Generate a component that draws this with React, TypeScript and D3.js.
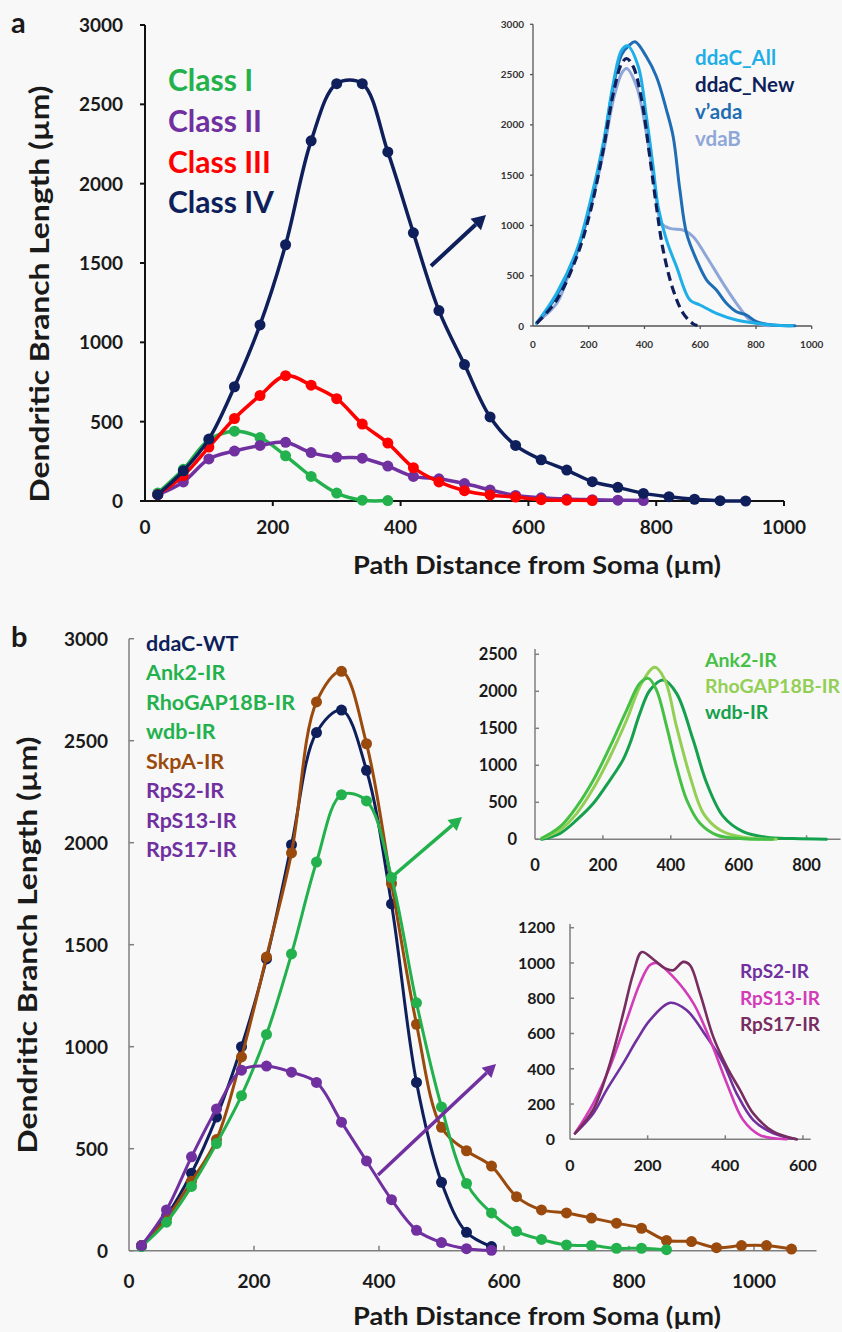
import React from 'react';
import * as d3 from 'd3';

const FONT = 'Lato, "Open Sans", sans-serif';
const NAVY = '#0e1f5b';
const GREEN = '#22b14c';
const PURPLE = '#7030a0';
const RED = '#ff0000';
const BROWN = '#9a4a0d';
const BG = '#f8f8f8';
const TXT = '#1a1a1a';

// ---------------- Panel a (main) ----------------
const aClassIX = [20, 60, 100, 140, 180, 220, 260, 300, 340, 380];
const aClassIY = [50, 200, 385, 440, 400, 285, 155, 50, 5, 3];
const aClassIIX = [20, 60, 100, 140, 180, 220, 260, 300, 340, 380, 420, 460, 500, 540, 580, 620, 660, 700, 740, 780];
const aClassIIY = [40, 120, 265, 315, 350, 370, 305, 275, 270, 220, 155, 140, 110, 70, 35, 20, 12, 8, 5, 3];
const aClassIIIX = [20, 60, 100, 140, 180, 220, 260, 300, 340, 380, 420, 460, 500, 540, 580, 620, 660, 700];
const aClassIIIY = [40, 160, 340, 520, 665, 790, 730, 645, 485, 365, 210, 120, 65, 38, 25, 8, 5, 3];
const aClassIVX = [20, 60, 100, 140, 180, 220, 260, 300, 340, 380, 420, 460, 500, 540, 580, 620, 660, 700, 740, 780, 820, 860, 900, 940];
const aClassIVY = [40, 190, 390, 720, 1110, 1615, 2270, 2630, 2630, 2200, 1690, 1200, 860, 530, 350, 260, 195, 122, 86, 48, 27, 11, 2, 0];
const aLegend = ['Class I', 'Class II', 'Class III', 'Class IV'];
const aYTicks = [0, 500, 1000, 1500, 2000, 2500, 3000];
const aXTicks = [0, 200, 400, 600, 800, 1000];

// ---------------- Panel a inset ----------------
const iaAllX = [13, 85, 157, 204, 252, 288, 318, 340, 378, 407, 431, 449, 479, 515, 563, 599, 658, 730, 802, 870, 930];
const iaAllY = [27, 325, 755, 1220, 1816, 2412, 2744, 2785, 2578, 2080, 1584, 1186, 855, 590, 258, 209, 126, 60, 27, 8, 2];
const iaNewX = [13, 85, 157, 204, 252, 288, 318, 336, 360, 390, 419, 443, 467, 503, 539, 575, 590];
const iaNewY = [27, 258, 689, 1120, 1750, 2312, 2610, 2660, 2578, 2247, 1683, 1186, 755, 358, 126, 20, 5];
const iaVadaX = [13, 85, 157, 204, 252, 288, 318, 345, 366, 407, 443, 479, 503, 527, 551, 587, 623, 658, 694, 730, 766, 802, 861, 940];
const iaVadaY = [27, 300, 730, 1190, 1790, 2380, 2700, 2790, 2826, 2677, 2478, 2147, 1882, 1352, 921, 656, 457, 358, 226, 142, 109, 43, 10, 2];
const iaVdabX = [13, 85, 121, 157, 204, 252, 288, 318, 336, 372, 407, 437, 461, 491, 539, 575, 623, 682, 730, 778, 826, 850];
const iaVdabY = [33, 225, 457, 722, 1153, 1716, 2247, 2512, 2560, 2379, 1915, 1385, 1021, 971, 954, 888, 689, 424, 226, 60, 10, 3];
const iaLegend = ['ddaC_All', 'ddaC_New', 'v\u2019ada', 'vdaB'];
const iaYTicks = [0, 500, 1000, 1500, 2000, 2500, 3000];
const iaXTicks = [0, 200, 400, 600, 800, 1000];

// ---------------- Panel b (main) ----------------
const bWtX = [20, 60, 100, 140, 180, 220, 260, 300, 340, 380, 420, 460, 500, 540, 580];
const bWtY = [25, 170, 380, 655, 1000, 1430, 1990, 2540, 2650, 2355, 1700, 825, 335, 90, 20];
const bGreenX = [20, 60, 100, 140, 180, 220, 260, 300, 340, 380, 420, 460, 500, 540, 580, 620, 660, 700, 740, 780, 820, 860];
const bGreenY = [20, 140, 315, 525, 760, 1060, 1455, 1905, 2235, 2205, 1830, 1215, 705, 330, 185, 95, 55, 28, 25, 12, 12, 5];
const bSkpX = [20, 60, 100, 140, 180, 220, 260, 300, 340, 380, 420, 460, 500, 540, 580, 620, 660, 700, 740, 780, 820, 860, 900, 940, 980, 1020, 1060];
const bSkpY = [25, 160, 340, 545, 950, 1440, 1950, 2690, 2840, 2485, 1800, 1110, 605, 490, 415, 265, 200, 185, 160, 135, 110, 50, 45, 15, 25, 25, 8];
const bRpsX = [20, 60, 100, 140, 180, 220, 260, 300, 340, 380, 420, 460, 500, 540, 580];
const bRpsY = [25, 200, 460, 695, 885, 905, 875, 825, 630, 440, 250, 100, 40, 10, 2];
const bLegend = ['ddaC-WT', 'Ank2-IR', 'RhoGAP18B-IR', 'wdb-IR', 'SkpA-IR', 'RpS2-IR', 'RpS13-IR', 'RpS17-IR'];
const bLegendColors = [NAVY, GREEN, GREEN, GREEN, BROWN, PURPLE, PURPLE, PURPLE];
const bYTicks = [0, 500, 1000, 1500, 2000, 2500, 3000];
const bXTicks = [0, 200, 400, 600, 800, 1000];

// ---------------- Panel b inset 1 ----------------
const ib1AnkX = [20, 74, 123, 172, 221, 270, 309, 334, 358, 388, 417, 447, 486, 535, 613, 700];
const ib1AnkY = [14, 170, 441, 801, 1251, 1747, 2108, 2175, 2017, 1521, 981, 531, 216, 58, 8, 0];
const ib1RhoX = [20, 74, 123, 172, 221, 270, 314, 353, 383, 417, 457, 496, 545, 613, 711];
const ib1RhoY = [14, 126, 351, 689, 1116, 1612, 2108, 2324, 2152, 1521, 846, 351, 126, 27, 0];
const ib1WdbX = [20, 74, 123, 172, 221, 241, 260, 280, 309, 339, 378, 417, 466, 506, 555, 613, 682, 761, 859];
const ib1WdbY = [0, 81, 261, 486, 801, 936, 1080, 1297, 1702, 2017, 2152, 1972, 1341, 757, 306, 103, 27, 10, 0];
const ib1Legend = ['Ank2-IR', 'RhoGAP18B-IR', 'wdb-IR'];
const ib1YTicks = [0, 500, 1000, 1500, 2000, 2500];
const ib1XTicks = [0, 200, 400, 600, 800];

// ---------------- Panel b inset 2 ----------------
const ib2Rps2X = [13, 60, 94, 137, 172, 206, 258, 300, 352, 395, 429, 472, 524, 584];
const ib2Rps2Y = [34, 147, 279, 431, 563, 676, 774, 733, 581, 431, 261, 109, 34, 0];
const ib2Rps13X = [13, 60, 103, 146, 180, 206, 223, 266, 318, 361, 404, 446, 489, 558];
const ib2Rps13Y = [34, 204, 411, 676, 884, 988, 1000, 921, 771, 563, 317, 109, 24, 0];
const ib2Rps17X = [13, 60, 103, 137, 163, 185, 215, 245, 266, 292, 309, 335, 369, 404, 438, 472, 524, 584];
const ib2Rps17Y = [34, 170, 431, 714, 941, 1062, 1020, 969, 959, 1006, 988, 827, 581, 411, 279, 147, 43, 0];
const ib2Legend = ['RpS2-IR', 'RpS13-IR', 'RpS17-IR'];
const ib2YTicks = [0, 200, 400, 600, 800, 1000, 1200];
const ib2XTicks = [0, 200, 400, 600];

const zip = (xs: number[], ys: number[]): [number, number][] => xs.map((x, i) => [x, ys[i]]);

type Scale = d3.ScaleLinear<number, number>;

function Series({ xs, ys, x, y, color, width, r, dash }: { xs: number[]; ys: number[]; x: Scale; y: Scale; color: string; width: number; r?: number; dash?: string }) {
  const pts = zip(xs, ys);
  const gen = d3.line<[number, number]>().x(d => x(d[0])).y(d => y(d[1])).curve(d3.curveCatmullRom.alpha(0.5));
  return (
    <g>
      <path d={gen(pts) || ''} fill="none" stroke={color} strokeWidth={width} strokeDasharray={dash} strokeLinejoin="round" strokeLinecap={dash ? 'butt' : 'round'} />
      {r ? pts.map((p, i) => <circle key={i} cx={x(p[0])} cy={y(p[1])} r={r} fill={color} />) : null}
    </g>
  );
}

function Axes({ x, y, xTicks, yTicks, color, width, tickLen, inside, fs, yLabelX, xLabelY, xEnd, yTop, labelColor, fw }: {
  x: Scale; y: Scale; xTicks: number[]; yTicks: number[]; color: string; width: number; tickLen: number; inside: boolean; fs: number; yLabelX: number; xLabelY: number; xEnd: number; yTop: number; labelColor?: string; fw?: number;
}) {
  const x0 = x(0);
  const y0 = y(0);
  const dir = inside ? 1 : -1;
  return (
    <g fontFamily={FONT} fontWeight={fw ?? 700} fontSize={fs} fill={labelColor ?? TXT}>
      <line x1={x0} x2={x0} y1={y0} y2={yTop} stroke={color} strokeWidth={width} />
      <line x1={x0} x2={xEnd} y1={y0} y2={y0} stroke={color} strokeWidth={width} />
      {yTicks.map(t => (
        <g key={'y' + t}>
          <line x1={x0} x2={x0 + dir * tickLen} y1={y(t)} y2={y(t)} stroke={color} strokeWidth={width} />
          <text x={yLabelX} y={y(t)} dy="0.36em" textAnchor="end">{t}</text>
        </g>
      ))}
      {xTicks.map(t => (
        <g key={'x' + t}>
          {t !== 0 && <line x1={x(t)} x2={x(t)} y1={y0} y2={y0 - dir * tickLen} stroke={color} strokeWidth={width} />}
          <text x={x(t)} y={xLabelY} dy="0.36em" textAnchor="middle">{t}</text>
        </g>
      ))}
    </g>
  );
}

function Arrow({ x1, y1, x2, y2, color, width, head }: { x1: number; y1: number; x2: number; y2: number; color: string; width: number; head: number }) {
  const ang = Math.atan2(y2 - y1, x2 - x1);
  const bx = x2 - head * Math.cos(ang);
  const by = y2 - head * Math.sin(ang);
  const hw = head * 0.55;
  const p1 = [bx + hw * Math.sin(ang), by - hw * Math.cos(ang)];
  const p2 = [bx - hw * Math.sin(ang), by + hw * Math.cos(ang)];
  return (
    <g>
      <line x1={x1} y1={y1} x2={bx} y2={by} stroke={color} strokeWidth={width} />
      <polygon points={`${x2},${y2} ${p1[0]},${p1[1]} ${p2[0]},${p2[1]}`} fill={color} />
    </g>
  );
}

export default function App() {
  // Panel a scales
  const ax = d3.scaleLinear().domain([0, 1000]).range([145, 784]);
  const ay = d3.scaleLinear().domain([0, 3000]).range([501, 25]);
  // inset a
  const iax = d3.scaleLinear().domain([0, 1000]).range([533, 811.7]);
  const iay = d3.scaleLinear().domain([0, 3000]).range([326, 24.3]);
  // Panel b
  const bx = d3.scaleLinear().domain([0, 1100]).range([129, 816.5]);
  const by = d3.scaleLinear().domain([0, 3000]).range([1250.7, 638.7]);
  // inset b1
  const b1x = d3.scaleLinear().domain([0, 900]).range([535, 840.5]);
  const b1y = d3.scaleLinear().domain([0, 2500]).range([839.3, 654.3]);
  // inset b2
  const b2x = d3.scaleLinear().domain([0, 620]).range([570, 810.7]);
  const b2y = d3.scaleLinear().domain([0, 1200]).range([1139.3, 927.7]);

  const aColors = [GREEN, PURPLE, RED, NAVY];
  const iaColors = ['#1eaee8', NAVY, '#1f6db4', '#8fa7d8'];
  const ib1Colors = ['#45c045', '#93cf55', '#14a04c'];
  const ib2Colors = [PURPLE, '#d23cb8', '#772d60'];

  return (
    <svg width={842} height={1332} style={{ position: 'absolute', left: 0, top: 0, display: 'block' }} fontFamily={FONT}>
      <rect x={0} y={0} width={842} height={1332} fill={BG} />

      {/* ===== Panel a ===== */}
      <text x={11} y={33} fontSize={29} fontWeight={700} fill={TXT}>a</text>
      <Axes x={ax} y={ay} xTicks={aXTicks} yTicks={aYTicks} color="#111" width={2} tickLen={5} inside={false} fs={19} yLabelX={123} xLabelY={527} xEnd={784} yTop={25} />
      <text transform="translate(49,294) rotate(-90)" textAnchor="middle" fontSize={27} fontWeight={700} fill={TXT} textLength={417} lengthAdjust="spacingAndGlyphs">Dendritic Branch Length (µm)</text>
      <text x={537} y={574} textAnchor="middle" fontSize={25} fontWeight={700} fill={TXT} textLength={368} lengthAdjust="spacingAndGlyphs">Path Distance from Soma (µm)</text>

      <Series xs={aClassIX} ys={aClassIY} x={ax} y={ay} color={GREEN} width={3.5} r={5.5} />
      <Series xs={aClassIIX} ys={aClassIIY} x={ax} y={ay} color={PURPLE} width={3.5} r={5.5} />
      <Series xs={aClassIIIX} ys={aClassIIIY} x={ax} y={ay} color={RED} width={3.5} r={5.5} />
      <Series xs={aClassIVX} ys={aClassIVY} x={ax} y={ay} color={NAVY} width={3.5} r={5.5} />

      <g fontSize={30} fontWeight={700}>
        {aLegend.map((t, i) => (
          <text key={t} x={168} y={91 + i * 40.8} fill={aColors[i]}>{t}</text>
        ))}
      </g>
      <Arrow x1={431} y1={266} x2={486} y2={215} color={NAVY} width={4} head={14} />

      {/* inset a */}
      <Axes x={iax} y={iay} xTicks={iaXTicks} yTicks={iaYTicks} color="#555" width={1.3} tickLen={3} inside={false} fs={10} yLabelX={524} xLabelY={344} xEnd={811.7} yTop={24.3} labelColor="#333" />
      <Series xs={iaVdabX} ys={iaVdabY} x={iax} y={iay} color={iaColors[3]} width={3} />
      <Series xs={iaVadaX} ys={iaVadaY} x={iax} y={iay} color={iaColors[2]} width={3} />
      <Series xs={iaAllX} ys={iaAllY} x={iax} y={iay} color={iaColors[0]} width={3} />
      <Series xs={iaNewX} ys={iaNewY} x={iax} y={iay} color={iaColors[1]} width={3.2} dash="9,5" />
      <g fontSize={20.5} fontWeight={700}>
        {iaLegend.map((t, i) => (
          <text key={t} x={695} y={65 + i * 27} fill={iaColors[i]}>{t}</text>
        ))}
      </g>

      {/* ===== Panel b ===== */}
      <text x={11} y={647} fontSize={29} fontWeight={700} fill={TXT}>b</text>
      <Axes x={bx} y={by} xTicks={bXTicks} yTicks={bYTicks} color="#7f7f7f" width={1.5} tickLen={5} inside={true} fs={19} yLabelX={108} xLabelY={1281} xEnd={816.5} yTop={638.7} />
      <text transform="translate(37,945) rotate(-90)" textAnchor="middle" fontSize={27} fontWeight={700} fill={TXT} textLength={417} lengthAdjust="spacingAndGlyphs">Dendritic Branch Length (µm)</text>
      <text x={537} y={1325} textAnchor="middle" fontSize={25} fontWeight={700} fill={TXT} textLength={368} lengthAdjust="spacingAndGlyphs">Path Distance from Soma (µm)</text>

      <Series xs={bWtX} ys={bWtY} x={bx} y={by} color={NAVY} width={3} r={5.5} />
      <Series xs={bSkpX} ys={bSkpY} x={bx} y={by} color={BROWN} width={3} r={5.5} />
      <Series xs={bGreenX} ys={bGreenY} x={bx} y={by} color={GREEN} width={3} r={5.5} />
      <Series xs={bRpsX} ys={bRpsY} x={bx} y={by} color={PURPLE} width={3} r={5.5} />

      <g fontSize={21.5} fontWeight={700}>
        {bLegend.map((t, i) => (
          <text key={t} x={146} y={650.5 + i * 29.5} fill={bLegendColors[i]}>{t}</text>
        ))}
      </g>
      <Arrow x1={393} y1={876} x2={462} y2={817} color={GREEN} width={3.5} head={13} />
      <Arrow x1={378} y1={1175} x2={496} y2={1064} color={PURPLE} width={3.5} head={13} />

      {/* inset b1 */}
      <Axes x={b1x} y={b1y} xTicks={ib1XTicks} yTicks={ib1YTicks} color="#7f7f7f" width={1.5} tickLen={4} inside={true} fs={16.5} yLabelX={517} xLabelY={865} xEnd={840.5} yTop={649} />
      <Series xs={ib1WdbX} ys={ib1WdbY} x={b1x} y={b1y} color={ib1Colors[2]} width={3} />
      <Series xs={ib1RhoX} ys={ib1RhoY} x={b1x} y={b1y} color={ib1Colors[1]} width={3} />
      <Series xs={ib1AnkX} ys={ib1AnkY} x={b1x} y={b1y} color={ib1Colors[0]} width={3} />
      <g fontSize={19.5} fontWeight={700}>
        {ib1Legend.map((t, i) => (
          <text key={t} x={705} y={666.5 + i * 26.3} fill={ib1Colors[i]}>{t}</text>
        ))}
      </g>

      {/* inset b2 */}
      <Axes x={b2x} y={b2y} xTicks={ib2XTicks} yTicks={ib2YTicks} color="#7f7f7f" width={1.5} tickLen={4} inside={true} fs={16} yLabelX={555} xLabelY={1165} xEnd={810.7} yTop={924} />
      <Series xs={ib2Rps2X} ys={ib2Rps2Y} x={b2x} y={b2y} color={ib2Colors[0]} width={2.6} />
      <Series xs={ib2Rps13X} ys={ib2Rps13Y} x={b2x} y={b2y} color={ib2Colors[1]} width={2.6} />
      <Series xs={ib2Rps17X} ys={ib2Rps17Y} x={b2x} y={b2y} color={ib2Colors[2]} width={2.6} />
      <g fontSize={19} fontWeight={700}>
        {ib2Legend.map((t, i) => (
          <text key={t} x={740} y={978 + i * 26.5} fill={ib2Colors[i]}>{t}</text>
        ))}
      </g>
    </svg>
  );
}
